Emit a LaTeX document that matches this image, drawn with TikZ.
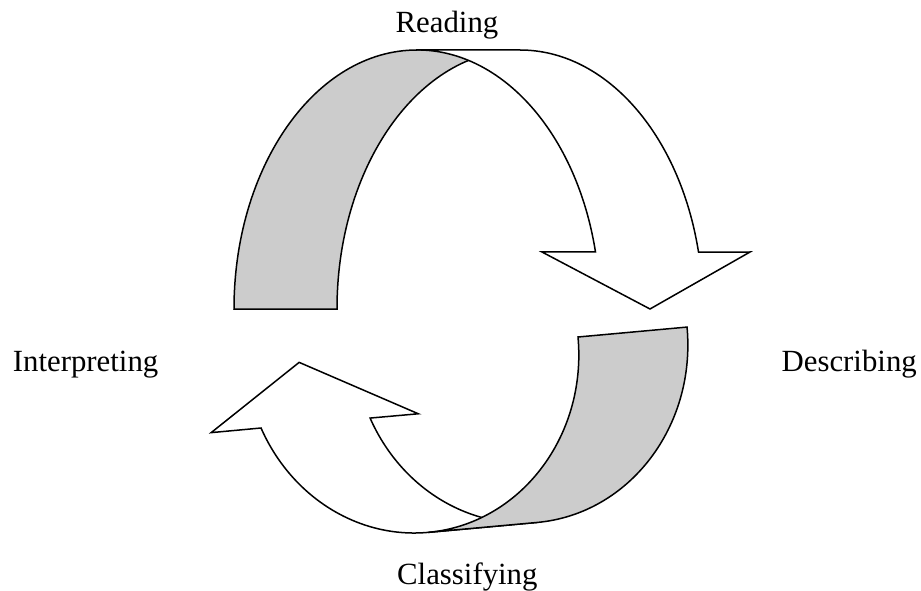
\documentclass[tikz,border=0pt]{standalone}
\usepackage{fontspec}
\setmainfont{Liberation Serif}
\definecolor{backgray}{RGB}{204,204,204}
\begin{document}
\begin{tikzpicture}[x=1pt,y=1pt,
  band/.style={draw=black,line width=1.5pt,line join=miter},
  backside/.style={band,fill=backgray},
  frontside/.style={band,fill=white},
  lbl/.style={inner sep=0pt,font=\fontsize{30.8}{36}\selectfont}]
\useasboundingbox (0,0) rectangle (921,590);
% ---- upper curved arrow ----
\path[backside] (234,281) arc[start angle=180,end angle=90,x radius=183,y radius=259]
  -- (520,540) arc[start angle=90,end angle=180,x radius=183,y radius=259] -- cycle;
\path[frontside] (417,540) -- (520,540)
  arc[start angle=90,end angle=12.7,x radius=183,y radius=259]
  -- (750,338) -- (650,281) -- (542,338) -- (595.5,338)
  arc[start angle=12.7,end angle=90,x radius=183,y radius=259] -- cycle;
% ---- lower curved arrow ----
\begin{scope}[shift={(578,253)},rotate=5.2]
\path[frontside] (-57.5,-181) -- (-167,-181)
  arc[start angle=-90,end angle=-160,x radius=167,y radius=181]
  -- (-374,-62) -- (-280,0) -- (-166,-62) -- (-214.4,-61.9)
  arc[start angle=-160,end angle=-90,x radius=167,y radius=181] -- cycle;
\path[backside] (0,0) -- (109.5,0)
  arc[start angle=0,end angle=-90,x radius=167,y radius=181]
  -- (-167,-181) arc[start angle=-90,end angle=0,x radius=167,y radius=181] -- cycle;
\end{scope}
% ---- labels ----
\node[lbl,anchor=base] (reading) at (447,557) {Reading};
\node[lbl,anchor=base west] (interpreting) at (12.7,219) {Interpreting};
\node[lbl,anchor=base east] (describing) at (917,219) {Describing};
\node[lbl,anchor=base west] (classifying) at (397,6) {Classifying};
\end{tikzpicture}
\end{document}
